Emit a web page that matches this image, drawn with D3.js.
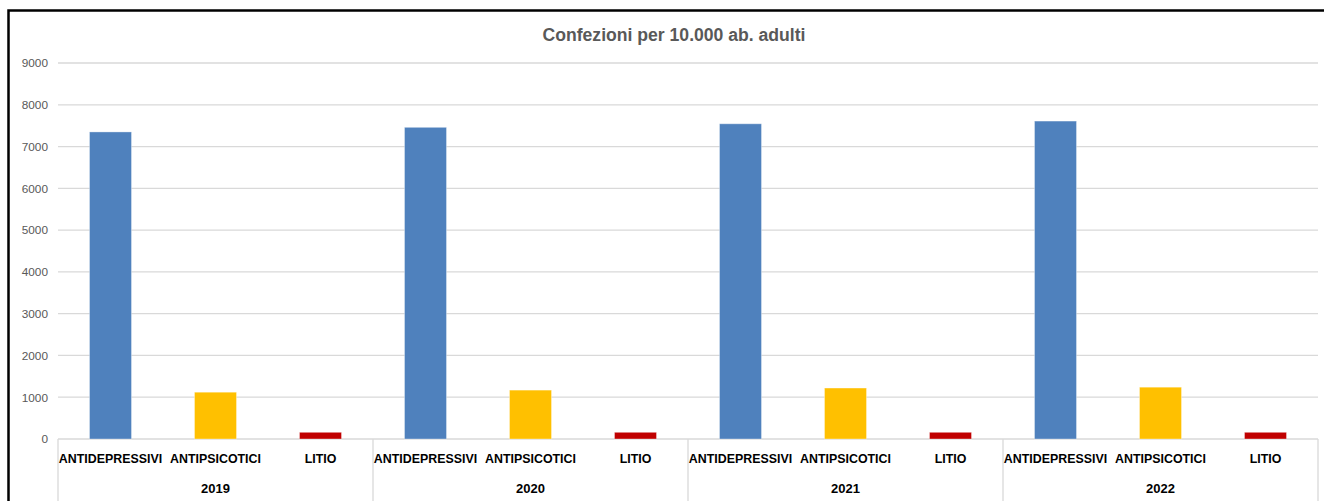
<!DOCTYPE html>
<html>
<head>
<meta charset="utf-8">
<script src="https://cdn.jsdelivr.net/npm/d3@7"></script>
<style>
  html, body { margin: 0; padding: 0; background: #fff; }
  svg { display: block; }
</style>
</head>
<body>
<svg id="chart" width="1324" height="501"></svg>
<script>
const years = ["2019", "2020", "2021", "2022"];
const categories = ["ANTIDEPRESSIVI", "ANTIPSICOTICI", "LITIO"];
const antidepressivi = [7350, 7460, 7545, 7610];
const antipsicotici = [1120, 1170, 1220, 1240];
const litio = [160, 160, 160, 160];
const yTicks = [0, 1000, 2000, 3000, 4000, 5000, 6000, 7000, 8000, 9000];
const title = "Confezioni per 10.000 ab. adulti";

const seriesByCat = { "ANTIDEPRESSIVI": antidepressivi, "ANTIPSICOTICI": antipsicotici, "LITIO": litio };
const colors = { "ANTIDEPRESSIVI": "#4F81BD", "ANTIPSICOTICI": "#FFC000", "LITIO": "#C00000" };

const data = [];
years.forEach((y, i) => categories.forEach(c => data.push({ year: y, cat: c, value: seriesByCat[c][i] })));

const svg = d3.select("#chart");
const margin = { left: 58, right: 6, top: 63, bottom: 62 };
const W = 1324, H = 501;

// outer frame
svg.append("rect").attr("x", 8.5).attr("y", 10.5).attr("width", 1340).attr("height", 520)
  .attr("fill", "none").attr("stroke", "#000").attr("stroke-width", 2.5);

const x0 = d3.scaleBand().domain(years).range([margin.left, W - margin.right]).padding(0);
const x1 = d3.scaleBand().domain(categories).range([0, x0.bandwidth()]).paddingInner(0.6).paddingOuter(0.3);
const xLab = d3.scaleBand().domain(categories).range([0, x0.bandwidth()]).padding(0);
const y = d3.scaleLinear().domain([0, 9000]).range([H - margin.bottom, margin.top]);

// gridlines
svg.append("g").selectAll("line").data(yTicks).join("line")
  .attr("x1", margin.left).attr("x2", W - margin.right)
  .attr("y1", d => y(d)).attr("y2", d => y(d))
  .attr("stroke", "#D9D9D9").attr("stroke-width", 1.3);

// y axis labels
const yAxis = svg.append("g").attr("transform", `translate(${margin.left - 10},0)`)
  .call(d3.axisLeft(y).tickValues(yTicks).tickSize(0).tickPadding(0).tickFormat(d3.format("d")));
yAxis.select(".domain").remove();
yAxis.selectAll("text").attr("font-family", "Liberation Sans, Arial, sans-serif")
  .attr("font-size", "11.8px").attr("fill", "#595959");

// bars
svg.append("g").selectAll("rect").data(data).join("rect")
  .attr("x", d => x0(d.year) + x1(d.cat))
  .attr("width", x1.bandwidth())
  .attr("y", d => y(d.value))
  .attr("height", d => y(0) - y(d.value))
  .attr("fill", d => colors[d.cat])
  .attr("stroke", "rgba(255,255,255,0.35)").attr("stroke-width", 1);

// category axis separators
svg.append("g").selectAll("line").data(years.concat(["end"])).join("line")
  .attr("x1", d => d === "end" ? W - margin.right : x0(d))
  .attr("x2", d => d === "end" ? W - margin.right : x0(d))
  .attr("y1", y(0)).attr("y2", H + 5)
  .attr("stroke", "#D9D9D9").attr("stroke-width", 1.3);

// category labels
svg.append("g").selectAll("text").data(data).join("text")
  .attr("x", d => x0(d.year) + xLab(d.cat) + xLab.bandwidth() / 2)
  .attr("y", 459).attr("dy", "0.35em")
  .attr("text-anchor", "middle")
  .attr("font-family", "Liberation Sans, Arial, sans-serif")
  .attr("font-weight", "bold").attr("font-size", "12.4px").attr("fill", "#000")
  .text(d => d.cat);

// year labels
svg.append("g").selectAll("text").data(years).join("text")
  .attr("x", d => x0(d) + x0.bandwidth() / 2)
  .attr("y", 488).attr("dy", "0.35em")
  .attr("text-anchor", "middle")
  .attr("font-family", "Liberation Sans, Arial, sans-serif")
  .attr("font-weight", "bold").attr("font-size", "13px").attr("fill", "#000")
  .text(d => d);

// title
svg.append("text").attr("x", 674).attr("y", 35).attr("dy", "0.35em")
  .attr("text-anchor", "middle")
  .attr("font-family", "Liberation Sans, Arial, sans-serif")
  .attr("font-weight", "bold").attr("font-size", "17.6px").attr("fill", "#595959")
  .text(title);
</script>
</body>
</html>
